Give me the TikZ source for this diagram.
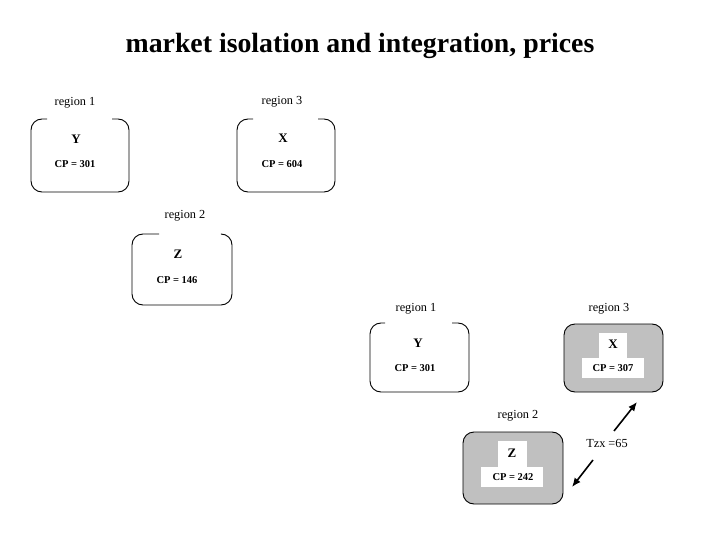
\documentclass[tikz,border=0pt]{standalone}
\usepackage{fontspec}
\setmainfont{Liberation Serif}
\usetikzlibrary{arrows.meta}
\definecolor{shade}{RGB}{192,192,192}
\begin{document}
\begin{tikzpicture}[x=1pt,y=-1pt,
  boxline/.style={draw=black,line width=0.9pt,rounded corners=11pt},
  shadedbox/.style={draw=black,fill=shade,line width=0.9pt,rounded corners=11pt},
  reglabel/.style={font=\fontsize{12.3}{14}\selectfont,inner sep=0pt},
  letterlbl/.style={font=\fontsize{13}{15}\selectfont\bfseries,inner sep=0pt},
  cplbl/.style={font=\fontsize{10.5}{12}\selectfont\bfseries,inner sep=0pt},
  tarrow/.style={-{Latex[length=9pt,width=7.5pt]},line width=1.6pt}]
\useasboundingbox (0,0) rectangle (720,540);
\node[font=\fontsize{27.8}{32}\selectfont\bfseries,inner sep=0pt] (title) at (360,46) {market isolation and integration, prices};
% upper-left group
\node[reglabel] (r1a) at (75,103) {region 1};
\node[reglabel] (r3a) at (282,102) {region 3};
\draw[boxline] (47,119) -- (31,119) -- (31,192) -- (129,192) -- (129,119) -- (112,119);
\draw[boxline] (253,119) -- (237,119) -- (237,192) -- (335,192) -- (335,119) -- (318,119);
\node[letterlbl] (ya) at (76,139) {Y};
\node[cplbl] (cpya) at (75,164) {CP = 301};
\node[letterlbl] (xa) at (283,138) {X};
\node[cplbl] (cpxa) at (282,164) {CP = 604};
\node[reglabel] (r2a) at (185,216) {region 2};
\draw[boxline] (159,234) -- (132,234) -- (132,305) -- (232,305) -- (232,234) -- (222,234);
\node[letterlbl] (za) at (178,254) {Z};
\node[cplbl] (cpza) at (177,280) {CP = 146};
% lower-right group
\node[reglabel] (r1b) at (416,309) {region 1};
\node[reglabel] (r3b) at (609,309) {region 3};
\draw[boxline] (385,323) -- (370,323) -- (370,392) -- (469,392) -- (469,323) -- (452,323);
\node[letterlbl] (yb) at (418,343) {Y};
\node[cplbl] (cpyb) at (415,368) {CP = 301};
\draw[shadedbox] (564,324) rectangle (663,392);
\fill[white] (599,333) rectangle (627,358);
\fill[white] (582,358) rectangle (644,378);
\node[letterlbl] (xb) at (613,344) {X};
\node[cplbl] (cpxb) at (613,368) {CP = 307};
\node[reglabel] (r2b) at (518,416) {region 2};
\draw[shadedbox] (463,432) rectangle (563,504);
\fill[white] (498,441) rectangle (527,467);
\fill[white] (481,467) rectangle (543,487);
\node[letterlbl] (zb) at (512,453) {Z};
\node[cplbl] (cpzb) at (513,477) {CP = 242};
\node[reglabel] (tzx) at (607,443) {Tzx =65};
\coordinate (a1s) at (614,431);
\coordinate (a1e) at (637,402);
\coordinate (a2s) at (593,460);
\coordinate (a2e) at (572,487);
\draw[tarrow] (a1s) -- (a1e);
\draw[tarrow] (a2s) -- (a2e);
\end{tikzpicture}
\end{document}
